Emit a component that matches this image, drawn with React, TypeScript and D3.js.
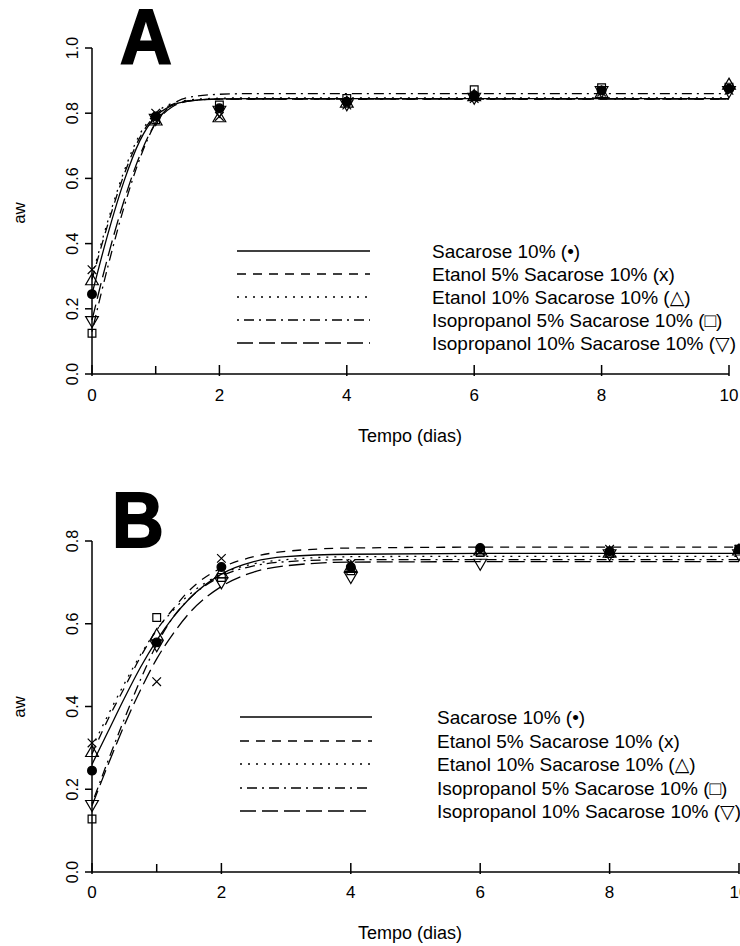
import React from "react";
import * as d3 from "d3";

// ---------- data ----------
const times = [0, 1, 2, 4, 6, 8, 10];
const seriesLabels = [
  "Sacarose 10%",
  "Etanol 5% Sacarose 10%",
  "Etanol 10% Sacarose 10%",
  "Isopropanol 5% Sacarose 10%",
  "Isopropanol 10% Sacarose 10%",
];
const seriesSymbols = ["(\u2022)", "(x)", "(\u25B3)", "(\u25A1)", "(\u25BD)"];

// Panel A observed points
const aSacarose = [0.245, 0.79, 0.815, 0.835, 0.855, 0.87, 0.875];
const aEtanol5 = [0.32, 0.8, 0.79, 0.825, 0.845, 0.865, 0.87];
const aEtanol10 = [0.285, 0.775, 0.785, 0.83, 0.85, 0.86, 0.885];
const aIso5 = [0.125, 0.78, 0.825, 0.845, 0.872, 0.878, 0.88];
const aIso10 = [0.165, 0.785, 0.81, 0.83, 0.85, 0.87, 0.87];

// Panel B observed points
const bSacarose = [0.245, 0.555, 0.737, 0.737, 0.783, 0.775, 0.78];
const bEtanol5 = [0.312, 0.46, 0.758, 0.745, 0.775, 0.78, 0.78];
const bEtanol10 = [0.288, 0.57, 0.72, 0.735, 0.775, 0.77, 0.775];
const bIso5 = [0.128, 0.615, 0.712, 0.728, 0.772, 0.77, 0.78];
const bIso10 = [0.164, 0.55, 0.702, 0.715, 0.747, 0.77, 0.77];

// fitted curves at these times
const curveTimes = [0, 0.25, 0.5, 0.75, 1, 1.25, 1.5, 2, 2.5, 3, 4, 6, 8, 10];
const aCurveSacarose = [0.245, 0.43, 0.59, 0.715, 0.79, 0.823, 0.837, 0.844, 0.845, 0.845, 0.845, 0.845, 0.845, 0.845];
const aCurveEtanol5 = [0.29, 0.46, 0.61, 0.725, 0.795, 0.826, 0.838, 0.843, 0.843, 0.843, 0.843, 0.843, 0.843, 0.843];
const aCurveEtanol10 = [0.3, 0.47, 0.62, 0.735, 0.8, 0.83, 0.84, 0.846, 0.847, 0.847, 0.847, 0.847, 0.847, 0.847];
const aCurveIso5 = [0.13, 0.33, 0.51, 0.66, 0.77, 0.825, 0.848, 0.858, 0.86, 0.86, 0.86, 0.86, 0.86, 0.86];
const aCurveIso10 = [0.165, 0.36, 0.53, 0.67, 0.77, 0.818, 0.836, 0.843, 0.843, 0.843, 0.843, 0.843, 0.843, 0.843];

const bCurveSacarose = [0.26, 0.34, 0.42, 0.495, 0.56, 0.615, 0.66, 0.72, 0.75, 0.762, 0.768, 0.77, 0.77, 0.77];
const bCurveEtanol5 = [0.285, 0.37, 0.445, 0.52, 0.585, 0.635, 0.68, 0.735, 0.762, 0.775, 0.783, 0.785, 0.785, 0.785];
const bCurveEtanol10 = [0.3, 0.38, 0.455, 0.525, 0.585, 0.632, 0.67, 0.72, 0.745, 0.755, 0.762, 0.763, 0.763, 0.763];
const bCurveIso5 = [0.165, 0.27, 0.37, 0.465, 0.55, 0.615, 0.66, 0.715, 0.74, 0.75, 0.755, 0.755, 0.755, 0.755];
const bCurveIso10 = [0.16, 0.26, 0.355, 0.44, 0.515, 0.575, 0.625, 0.69, 0.725, 0.74, 0.749, 0.75, 0.75, 0.75];

const aYTicks = [0, 0.2, 0.4, 0.6, 0.8, 1.0];
const bYTicks = [0, 0.2, 0.4, 0.6, 0.8];
const xTicks = [0, 2, 4, 6, 8, 10];
const xMinorTicks = [1];

// ---------- styles ----------
const FONT = "'Liberation Sans', Arial, 'DejaVu Sans', sans-serif";
const dashes = ["none", "9,7", "2,6", "2,5,10,5", "16,6"];
const markerKinds = ["circle", "times", "triangle", "square", "itriangle"];

function markerPath(kind: string): string {
  switch (kind) {
    case "circle":
      return d3.symbol(d3.symbolCircle, 60)() as string;
    case "times":
      return d3.symbol(d3.symbolTimes, 50)() as string;
    case "triangle":
      return d3.symbol(d3.symbolTriangle, 70)() as string;
    case "square":
      return d3.symbol(d3.symbolSquare, 60)() as string;
    default:
      return d3.symbol(d3.symbolTriangle, 70)() as string;
  }
}

type PanelProps = {
  letter: string;
  letterX: number;
  letterBase: number;
  xRange: [number, number];
  yTop: number;
  yBottom: number;
  yMax: number;
  yTicks: number[];
  points: number[][];
  curves: number[][];
  legLineX: [number, number];
  legTextX: number;
  legRows: number[];
  tickBase: number;
  titleBase: number;
  awY: number;
};

function Panel(p: PanelProps) {
  const x = d3.scaleLinear().domain([0, 10]).range(p.xRange);
  const y = d3.scaleLinear().domain([0, p.yMax]).range([p.yBottom, p.yTop]);
  const line = d3
    .line<[number, number]>()
    .x((d) => x(d[0]))
    .y((d) => y(d[1]))
    .curve(d3.curveMonotoneX);
  const axisY = y(0);
  return (
    <g>
      <text
        x={p.letterX}
        y={p.letterBase}
        fontFamily={FONT}
        fontWeight="bold"
        fontSize={78}
        stroke="#000"
        strokeWidth={2}
        transform={`translate(${p.letterX},0) scale(0.92,1) translate(${-p.letterX},0)`}
      >
        {p.letter}
      </text>
      {/* curves */}
      {p.curves.map((c, i) => (
        <path
          key={"c" + i}
          d={line(curveTimes.map((t, j) => [t, c[j]] as [number, number])) as string}
          fill="none"
          stroke="#000"
          strokeWidth={1.3}
          strokeDasharray={dashes[i]}
        />
      ))}
      {/* markers */}
      {p.points.map((s, i) =>
        s.map((v, j) => {
          const kind = markerKinds[i];
          const rot = kind === "itriangle" ? 180 : 0;
          const filled = kind === "circle";
          return (
            <path
              key={"m" + i + "_" + j}
              d={markerPath(kind)}
              transform={`translate(${x(times[j])},${y(v)}) rotate(${rot})`}
              fill={filled ? "#000" : "none"}
              stroke="#000"
              strokeWidth={1.2}
            />
          );
        })
      )}
      {/* axes */}
      <line x1={p.xRange[0]} x2={p.xRange[0]} y1={y(p.yMax)} y2={axisY} stroke="#000" strokeWidth={1.5} />
      <line x1={p.xRange[0]} x2={p.xRange[1]} y1={axisY} y2={axisY} stroke="#000" strokeWidth={1.5} />
      {p.yTicks.map((t) => (
        <g key={"yt" + t}>
          <line x1={p.xRange[0] - 7} x2={p.xRange[0]} y1={y(t)} y2={y(t)} stroke="#000" strokeWidth={1.5} />
          <text
            transform={`translate(78,${y(t)}) rotate(-90)`}
            textAnchor="middle"
            fontFamily={FONT}
            fontSize={16}
          >
            {t.toFixed(1)}
          </text>
        </g>
      ))}
      {xTicks.map((t) => (
        <g key={"xt" + t}>
          <line x1={x(t)} x2={x(t)} y1={axisY - 9} y2={axisY + 2} stroke="#000" strokeWidth={1.5} />
          <text x={x(t)} y={p.tickBase} textAnchor="middle" fontFamily={FONT} fontSize={17}>
            {t}
          </text>
        </g>
      ))}
      {xMinorTicks.map((t) => (
        <line key={"xm" + t} x1={x(t)} x2={x(t)} y1={axisY - 8} y2={axisY} stroke="#000" strokeWidth={1.5} />
      ))}
      <text x={410} y={p.titleBase} textAnchor="middle" fontFamily={FONT} fontSize={18}>
        Tempo (dias)
      </text>
      <text transform={`translate(25,${p.awY}) rotate(-90)`} textAnchor="middle" fontFamily={FONT} fontSize={17}>
        aw
      </text>
      {/* legend */}
      {seriesLabels.map((lab, i) => (
        <g key={"lg" + i}>
          <line
            x1={p.legLineX[0]}
            x2={p.legLineX[1]}
            y1={p.legRows[i]}
            y2={p.legRows[i]}
            stroke="#000"
            strokeWidth={1.5}
            strokeDasharray={dashes[i]}
          />
          <text x={p.legTextX} y={p.legRows[i] + 7} fontFamily={FONT} fontSize={19}>
            {lab + " " + seriesSymbols[i]}
          </text>
        </g>
      ))}
    </g>
  );
}

export default function App() {
  return (
    <svg
      width={740}
      height={946}
      style={{ position: "absolute", left: 0, top: 0, background: "#fff" }}
    >
      <rect width={740} height={946} fill="#fff" />
      <Panel
        letter="A"
        letterX={120}
        letterBase={64}
        xRange={[92, 729]}
        yTop={48}
        yBottom={374}
        yMax={1.0}
        yTicks={aYTicks}
        points={[aSacarose, aEtanol5, aEtanol10, aIso5, aIso10]}
        curves={[aCurveSacarose, aCurveEtanol5, aCurveEtanol10, aCurveIso5, aCurveIso10]}
        legLineX={[237, 370]}
        legTextX={432}
        legRows={[251, 274, 297, 320, 343]}
        tickBase={401}
        titleBase={442}
        awY={213}
      />
      <Panel
        letter="B"
        letterX={112}
        letterBase={547}
        xRange={[92, 739]}
        yTop={541}
        yBottom={872}
        yMax={0.8}
        yTicks={bYTicks}
        points={[bSacarose, bEtanol5, bEtanol10, bIso5, bIso10]}
        curves={[bCurveSacarose, bCurveEtanol5, bCurveEtanol10, bCurveIso5, bCurveIso10]}
        legLineX={[240, 372]}
        legTextX={437}
        legRows={[717, 741, 764, 788, 811]}
        tickBase={898}
        titleBase={939}
        awY={707}
      />
    </svg>
  );
}
